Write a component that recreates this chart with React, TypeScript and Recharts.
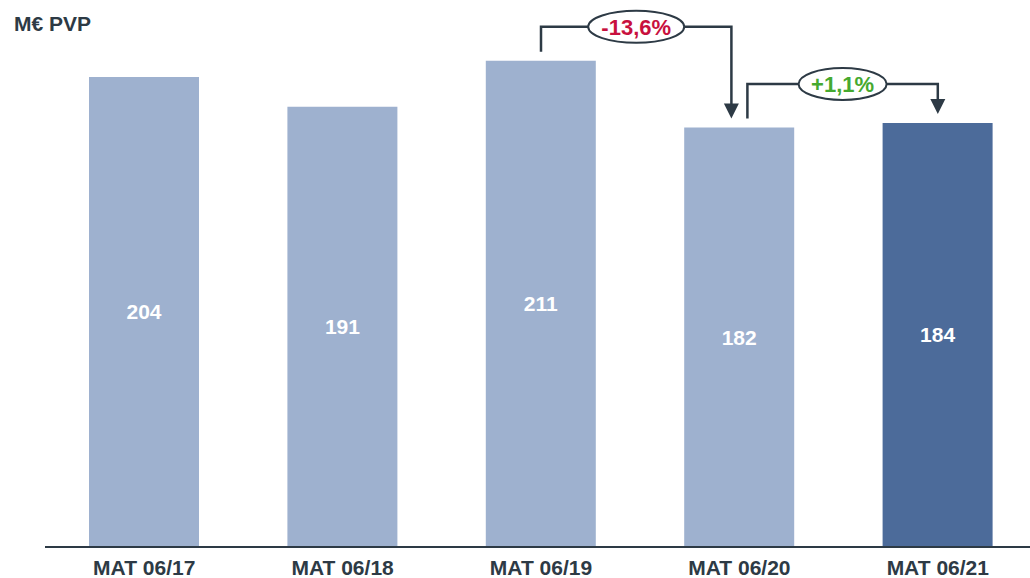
import { BarChart, Bar, XAxis, YAxis, Cell, LabelList, ReferenceLine } from "recharts";

const categories = ["MAT 06/17", "MAT 06/18", "MAT 06/19", "MAT 06/20", "MAT 06/21"];
const values = [204, 191, 211, 182, 184];
const highlighted = [false, false, false, false, true];

// variation brackets: from category -> to category, label, colour
const changeFrom = ["MAT 06/19", "MAT 06/20"];
const changeTo = ["MAT 06/20", "MAT 06/21"];
const changeLabels = ["-13,6%", "+1,1%"];
const changeColors = ["#c8103e", "#45a92f"];

const data = categories.map((c, i) => ({ label: c, valor: values[i] }));
const valueOf = (c: string) => values[categories.indexOf(c)];

const DARK = "#2d3a45";
const FONT = "'Liberation Sans', Arial, sans-serif";

const XTick = (props: any) => {
  const { x, y, payload } = props;
  return (
    <text x={x} y={y + 28} textAnchor="middle" fill={DARK} fontFamily={FONT} fontSize={21} fontWeight="bold">
      {payload.value}
    </text>
  );
};

const bracketShape = (i: number) => (props: any) => {
  const { x1, y1, x2, y2 } = props;
  const lift = i === 0 ? 34 : 39;
  const startX = x1 + (i === 1 ? 8 : 0);
  const endX = x2 - (i === 0 ? 8 : 0);
  const top = Math.min(y1, y2) - lift;
  const tipY = y2 - 9;
  const midX = (startX + endX) / 2;
  const rx = i === 0 ? 48 : 44;
  return (
    <g>
      <path
        d={`M${startX},${y1 - 9} V${top} H${endX} V${tipY - 14}`}
        fill="none"
        stroke={DARK}
        strokeWidth={2.5}
      />
      <path d={`M${endX - 7.5},${tipY - 15} L${endX + 7.5},${tipY - 15} L${endX},${tipY} Z`} fill={DARK} />
      <ellipse cx={midX} cy={top} rx={rx} ry={16} fill="#fff" stroke={DARK} strokeWidth={2} />
      <text
        x={midX}
        y={top + 8}
        textAnchor="middle"
        fill={changeColors[i]}
        fontFamily={FONT}
        fontSize={22}
        fontWeight="bold"
      >
        {changeLabels[i]}
      </text>
    </g>
  );
};

export default function App() {
  return (
    <div style={{ position: "absolute", left: 0, top: 0, width: 1030, height: 578, overflow: "hidden", background: "#fff" }}>
      <div style={{ position: "absolute", left: 14, top: 10, fontFamily: FONT, fontSize: 21, fontWeight: "bold", color: DARK, lineHeight: "28px" }}>
        M€ PVP
      </div>
      <BarChart width={1040} height={578} data={data} margin={{ top: 17, right: 3, left: 45, bottom: 0 }}>
        <XAxis
          dataKey="label"
          height={31}
          tickLine={false}
          tickSize={0}
          tickMargin={0}
          axisLine={{ stroke: DARK, strokeWidth: 2 }}
          tick={<XTick />}
          interval={0}
        />
        <YAxis hide domain={[0, 230]} />
        <Bar dataKey="valor" barSize={110} isAnimationActive={false}>
          {data.map((d, i) => (
            <Cell key={d.label} fill={highlighted[i] ? "#4c6b9a" : "#9eb1cf"} />
          ))}
          <LabelList
            dataKey="valor"
            position="center"
            fill="#fff"
            fontFamily={FONT}
            fontSize={21}
            fontWeight="bold"
          />
        </Bar>
        {changeFrom.map((f, i) => (
          <ReferenceLine
            key={f}
            segment={[
              { x: f, y: valueOf(f) },
              { x: changeTo[i], y: valueOf(changeTo[i]) },
            ]}
            ifOverflow="visible"
            shape={bracketShape(i)}
          />
        ))}
      </BarChart>
    </div>
  );
}
